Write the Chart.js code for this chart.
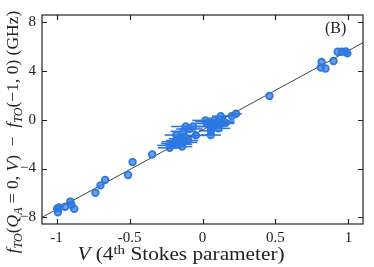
<!DOCTYPE html>
<html>
<head>
<meta charset="utf-8">
<script src="https://cdn.jsdelivr.net/npm/chart.js@4"></script>
<style>
  html, body { margin: 0; padding: 0; background: #fff; }
  #wrap { width: 374px; height: 267px; position: relative; }
</style>
</head>
<body>
<div id="wrap"><canvas id="chart"></canvas></div>
<script>
// Measured points: Stokes V, frequency shift (GHz), horizontal error
const stokesV = [
    -0.991, -0.996, -0.982, -0.941, -0.906, -0.899, -0.879, -0.734, -0.699, -0.667,
    -0.51, -0.479, -0.345,
    -0.225, -0.22, -0.205, -0.19, -0.185, -0.17, -0.16, -0.15, -0.14, -0.135, -0.12, -0.18, -0.10,
    -0.115, -0.09, -0.065, -0.13, -0.045,
    0.02, 0.03, 0.05, 0.06, 0.057, 0.057, 0.08, 0.09, 0.10, 0.11, 0.125, 0.125, 0.14, 0.16, 0.20, 0.23,
    0.459, 0.816, 0.811, 0.843, 0.898, 0.926, 0.954, 0.981, 0.993
];
const freqShift = [
    -7.58, -7.27, -7.19, -7.13, -6.71, -6.97, -7.31, -5.99, -5.38, -4.93,
    -4.53, -3.47, -2.84,
    -2.30, -2.10, -1.95, -1.80, -2.05, -1.70, -2.00, -1.55, -2.20, -1.85, -1.40, -1.25, -1.70,
    -0.55, -0.75, -0.55, -0.95, -1.28,
    -0.05, -0.30, -0.15, -0.55, -0.90, -1.25, -0.05, -0.40, -0.20, -0.70, 0.30, -0.30, -0.10, -0.25, 0.30, 0.50,
    1.96, 4.74, 4.29, 4.21, 4.82, 5.59, 5.59, 5.61, 5.45
];
const stokesErr = [
    0, 0, 0, 0, 0, 0, 0, 0, 0, 0,
    0, 0, 0,
    0.08, 0.09, 0.08, 0.09, 0.07, 0.08, 0.09, 0.08, 0.07, 0.1, 0.08, 0.08, 0.07,
    0.1, 0.09, 0.08, 0.09, 0.08,
    0.09, 0.08, 0.1, 0.09, 0.08, 0.07, 0.09, 0.08, 0.1, 0.08, 0.06, 0.09, 0.08, 0.06, 0.05, 0.04,
    0, 0, 0, 0, 0, 0, 0, 0, 0
];

// Linear fit end points
const fitX = [-1.1, 1.1];
const fitY = [-8.0, 6.33];

const xTicks = [-1, -0.5, 0, 0.5, 1];
const yTicks = [-8, -4, 0, 4, 8];
const xRange = [-1.1, 1.1];
const yRange = [-8.55, 8.6];

const blue = 'rgb(45,120,225)';
const serif = '"Liberation Serif", "DejaVu Serif", serif';

// draw a list of [text, style] runs, style: n normal, i italic, s subscript italic, p superscript
function drawRuns(ctx, runs, size) {
    const fontFor = st => {
        if (st === 'i') return 'italic ' + size + 'px ' + serif;
        if (st === 's') return 'italic ' + Math.round(size * 0.7) + 'px ' + serif;
        if (st === 'p') return Math.round(size * 0.7) + 'px ' + serif;
        return size + 'px ' + serif;
    };
    let total = 0;
    runs.forEach(r => { ctx.font = fontFor(r[1]); total += ctx.measureText(r[0]).width; });
    let x = -total / 2;
    runs.forEach(r => {
        ctx.font = fontFor(r[1]);
        let dy = 0;
        if (r[1] === 's') dy = size * 0.25;
        if (r[1] === 'p') dy = -size * 0.35;
        ctx.fillText(r[0], x, dy);
        x += ctx.measureText(r[0]).width;
    });
}

const decorPlugin = {
    id: 'decor',
    beforeDatasetsDraw(chart) {
        // horizontal error bars
        const ctx = chart.ctx, xs = chart.scales.x, ys = chart.scales.y;
        ctx.save();
        ctx.strokeStyle = blue;
        ctx.lineWidth = 1.6;
        stokesV.forEach((v, i) => {
            if (!stokesErr[i]) return;
            const py = ys.getPixelForValue(freqShift[i]);
            ctx.beginPath();
            ctx.moveTo(xs.getPixelForValue(v - stokesErr[i]), py);
            ctx.lineTo(xs.getPixelForValue(v + stokesErr[i]), py);
            ctx.stroke();
        });
        ctx.restore();
    },
    afterDraw(chart) {
        const ctx = chart.ctx, a = chart.chartArea;
        const xs = chart.scales.x, ys = chart.scales.y;
        ctx.save();
        ctx.strokeStyle = '#222';
        ctx.lineWidth = 1.2;
        ctx.strokeRect(a.left, a.top, a.right - a.left, a.bottom - a.top);
        ctx.beginPath();
        const tl = 5;
        xTicks.forEach(v => {
            const px = Math.round(xs.getPixelForValue(v)) + 0.5;
            ctx.moveTo(px, a.bottom); ctx.lineTo(px, a.bottom - tl);
            ctx.moveTo(px, a.top); ctx.lineTo(px, a.top + tl);
        });
        yTicks.forEach(v => {
            const py = Math.round(ys.getPixelForValue(v)) + 0.5;
            ctx.moveTo(a.left, py); ctx.lineTo(a.left + tl, py);
            ctx.moveTo(a.right, py); ctx.lineTo(a.right - tl, py);
        });
        ctx.stroke();

        ctx.fillStyle = '#222';
        ctx.textBaseline = 'alphabetic';
        ctx.textAlign = 'left';
        // panel label
        ctx.font = '16px ' + serif;
        ctx.fillText('(B)', 325, 33);

        // x title (widened a little to match the original face)
        ctx.save();
        ctx.translate(181, 260);
        ctx.scale(1.15, 1);
        drawRuns(ctx, [['V', 'i'], [' (4', 'n'], ['th', 'p'], [' Stokes parameter)', 'n']], 18.5);
        ctx.restore();

        // y title
        ctx.save();
        ctx.translate(18, 132);
        ctx.rotate(-Math.PI / 2);
        drawRuns(ctx, [
            ['f', 'i'], ['TO', 's'], ['(', 'n'], ['Q', 'i'], ['A', 's'], [' = 0, ', 'n'], ['V', 'i'],
            [')  \u2212  ', 'n'], ['f', 'i'], ['TO', 's'], ['(\u22121, 0) (GHz)', 'n']
        ], 17.5);
        ctx.restore();
        ctx.restore();
    }
};

new Chart(document.getElementById('chart'), {
    type: 'scatter',
    data: {
        datasets: [{
            type: 'scatter',
            data: stokesV.map((v, i) => ({ x: v, y: freqShift[i] })),
            pointRadius: 3.3,
            pointBorderWidth: 1.8,
            pointBackgroundColor: 'rgba(45,120,225,0.7)',
            pointBorderColor: blue,
            order: 1
        }, {
            type: 'line',
            data: fitX.map((v, i) => ({ x: v, y: fitY[i] })),
            borderColor: '#444',
            borderWidth: 1,
            pointRadius: 0,
            fill: false,
            order: 2
        }]
    },
    options: {
        responsive: true,
        maintainAspectRatio: false,
        animation: false,
        layout: { padding: { top: 8, right: 11, left: 0, bottom: 0 } },
        plugins: { legend: { display: false }, tooltip: { enabled: false } },
        scales: {
            x: {
                type: 'linear',
                min: xRange[0], max: xRange[1],
                afterFit(s) { s.height = 43; },
                afterBuildTicks(s) { s.ticks = xTicks.map(v => ({ value: v })); },
                grid: { display: false, drawTicks: false },
                border: { display: false },
                ticks: { padding: 5, color: '#222', font: { family: serif, size: 15 }, callback: v => String(v), maxRotation: 0 }
            },
            y: {
                type: 'linear',
                min: yRange[0], max: yRange[1],
                afterFit(s) { s.width = 42; },
                afterBuildTicks(s) { s.ticks = yTicks.map(v => ({ value: v })); },
                grid: { display: false, drawTicks: false },
                border: { display: false },
                ticks: { padding: 6, color: '#222', font: { family: serif, size: 15 }, callback: v => String(v).replace('-', '\u2212') }
            }
        }
    },
    plugins: [decorPlugin]
});
</script>
</body>
</html>
